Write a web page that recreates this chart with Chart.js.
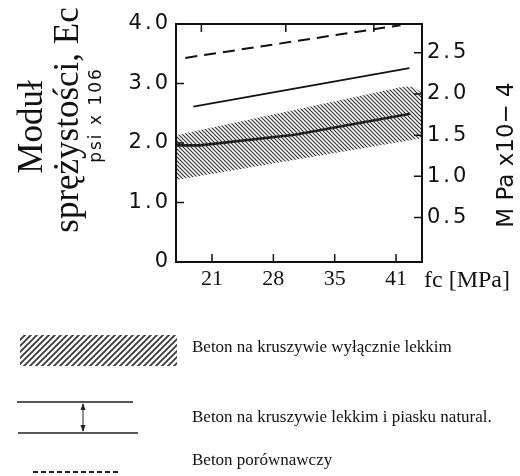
<!DOCTYPE html>
<html>
<head>
<meta charset="utf-8">
<script src="https://cdn.jsdelivr.net/npm/chart.js@4"></script>
<style>
  html, body { margin: 0; padding: 0; background: #fff; }
  #chart { display: block; }
</style>
</head>
<body>
<canvas id="chart" width="520" height="476"></canvas>
<script>
// x: fc [MPa], y: Ec [psi x 10^6], prawa oś: MPa x 10^4
const xTicks = [20.7, 27.6, 34.5, 41.4];
const xTickLabels = ['21', '28', '35', '41'];
const xTopTicks = [19.5, 29.0, 38.9];
const yTicks = [0, 1, 2, 3, 4];
const yTickLabels = ['0', '1.0', '2.0', '3.0', '4.0'];
const y2Ticks = [0.5, 1.0, 1.5, 2.0, 2.5];
const y2TickLabels = ['0.5', '1.0', '1.5', '2.0', '2.5'];

// pole zakreskowane - beton na kruszywie wyłącznie lekkim
const hatchTopX = [16.65, 42.3, 43.4, 44.3];
const hatchTopY = [2.13, 2.95, 2.94, 2.84];
const hatchBottomX = [16.65, 44.3];
const hatchBottomY = [1.38, 2.08];

// linie: kruszywo lekkie + piasek naturalny (dolna i górna)
const lowLineX = [16.65, 19.3, 30.0, 43.0];
const lowLineY = [1.96, 1.96, 2.14, 2.49];
const highLineX = [18.6, 42.9];
const highLineY = [2.61, 3.26];

// beton porównawczy
const refLineX = [17.7, 41.9];
const refLineY = [3.43, 3.98];

const legendLabels = [
  'Beton na kruszywie wyłącznie lekkim',
  'Beton na kruszywie lekkim i piasku natural.',
  'Beton porównawczy'
];

const canvas = document.getElementById('chart');
const ctx = canvas.getContext('2d');

function makeHatch(size, width, color, dir) {
  const c = document.createElement('canvas');
  c.width = size; c.height = size;
  const g = c.getContext('2d');
  g.strokeStyle = color;
  g.lineWidth = width;
  g.beginPath();
  if (dir === 'down') {
    g.moveTo(-1, -1); g.lineTo(size + 1, size + 1);
    g.moveTo(-1, size - 1); g.lineTo(1, size + 1);
    g.moveTo(size - 1, -1); g.lineTo(size + 1, 1);
  } else {
    g.moveTo(-1, size + 1); g.lineTo(size + 1, -1);
    g.moveTo(-1, 1); g.lineTo(1, -1);
    g.moveTo(size - 1, size + 1); g.lineTo(size + 1, size - 1);
  }
  g.stroke();
  return ctx.createPattern(c, 'repeat');
}

const chartHatch = makeHatch(4, 1.2, '#333', 'down');
const legendHatch = makeHatch(6, 1.8, '#3a3a3a', 'up');

function pts(xs, ys) {
  return xs.map((x, i) => ({ x: x, y: ys[i] }));
}

function vtext(c, str, x, y, font, spacing) {
  c.save();
  c.translate(x, y);
  c.rotate(-Math.PI / 2);
  c.font = font;
  c.letterSpacing = spacing || '0px';
  c.textAlign = 'center';
  c.textBaseline = 'alphabetic';
  c.fillStyle = '#111';
  c.fillText(str, 0, 0);
  c.restore();
}

// odstępy liter tylko dla opisów osi pionowych (rysowane przed seriami)
const spacingPlugin = {
  id: 'spacing',
  beforeDraw(chart) { chart.ctx.letterSpacing = '3px'; },
  beforeDatasetsDraw(chart) { chart.ctx.letterSpacing = '0px'; }
};

const framePlugin = {
  id: 'frame',
  afterDatasetsDraw(chart) {
    const c = chart.ctx;
    const a = chart.chartArea;
    const sx = chart.scales.x, sy = chart.scales.y, sy2 = chart.scales.y2;
    const len = 8;
    c.save();
    c.strokeStyle = '#111';
    c.lineWidth = 2;
    c.strokeRect(a.left, a.top, a.right - a.left, a.bottom - a.top);
    c.lineWidth = 1.5;
    c.beginPath();
    xTicks.forEach(v => {
      const px = sx.getPixelForValue(v);
      c.moveTo(px, a.bottom); c.lineTo(px, a.bottom - len);
    });
    xTopTicks.forEach(v => {
      const px = sx.getPixelForValue(v);
      c.moveTo(px, a.top); c.lineTo(px, a.top + len);
    });
    yTicks.forEach(v => {
      const py = sy.getPixelForValue(v);
      c.moveTo(a.left, py); c.lineTo(a.left + len, py);
    });
    y2Ticks.forEach(v => {
      const py = sy2.getPixelForValue(v);
      c.moveTo(a.right, py); c.lineTo(a.right - len, py);
    });
    c.stroke();
    c.restore();
  }
};

const textPlugin = {
  id: 'texts',
  afterDraw(chart) {
    const c = chart.ctx;
    const a = chart.chartArea;
    vtext(c, 'Moduł', 42, 127, '35px "Liberation Serif"');
    vtext(c, 'sprężystości, Ec', 78, 120, '35px "Liberation Serif"');
    vtext(c, 'psi x 106', 101, 115, '17px "DejaVu Sans"', '2px');
    vtext(c, 'M Pa x10− 4', 513, 155, '23px "DejaVu Sans"');

    c.save();
    c.fillStyle = '#111';
    c.letterSpacing = '0px';
    c.font = '24px "Liberation Serif"';
    c.textAlign = 'left';
    c.textBaseline = 'alphabetic';
    c.fillText('fc [MPa]', a.right + 2, 287);

    // legenda
    c.fillStyle = legendHatch;
    c.fillRect(20, 335, 157, 31);

    c.fillStyle = '#111';
    c.font = '17px "Liberation Serif"';
    c.fillText(legendLabels[0], 192, 352);
    c.fillText(legendLabels[1], 192, 422);
    c.fillText(legendLabels[2], 192, 465);

    c.strokeStyle = '#222';
    c.lineWidth = 1.6;
    c.beginPath();
    c.moveTo(17, 402); c.lineTo(133, 402);
    c.moveTo(18, 433); c.lineTo(138, 433);
    c.stroke();

    c.lineWidth = 1;
    c.beginPath();
    c.moveTo(83, 404); c.lineTo(83, 431);
    c.stroke();
    c.beginPath();
    c.moveTo(83, 403); c.lineTo(80.5, 410); c.lineTo(85.5, 410); c.closePath();
    c.moveTo(83, 432); c.lineTo(80.5, 425); c.lineTo(85.5, 425); c.closePath();
    c.fillStyle = '#222';
    c.fill();

    c.lineWidth = 2;
    c.setLineDash([5, 3]);
    c.beginPath();
    c.moveTo(33, 472); c.lineTo(119, 472);
    c.stroke();
    c.restore();
  }
};

new Chart(canvas, {
  type: 'line',
  data: {
    datasets: [
      {
        data: pts(hatchTopX, hatchTopY),
        borderWidth: 0,
        borderColor: 'rgba(0,0,0,0)',
        backgroundColor: chartHatch,
        fill: '+1',
        pointRadius: 0,
        yAxisID: 'y'
      },
      {
        data: pts(hatchBottomX, hatchBottomY),
        borderWidth: 0,
        borderColor: 'rgba(0,0,0,0)',
        fill: false,
        pointRadius: 0,
        yAxisID: 'y'
      },
      {
        data: pts(lowLineX, lowLineY),
        borderColor: '#111',
        borderWidth: 2.6,
        fill: false,
        pointRadius: 0,
        yAxisID: 'y'
      },
      {
        data: pts(highLineX, highLineY),
        borderColor: '#111',
        borderWidth: 1.8,
        fill: false,
        pointRadius: 0,
        yAxisID: 'y'
      },
      {
        data: pts(refLineX, refLineY),
        borderColor: '#111',
        borderWidth: 2,
        borderDash: [12, 7],
        fill: false,
        pointRadius: 0,
        yAxisID: 'y'
      }
    ]
  },
  options: {
    responsive: false,
    animation: false,
    devicePixelRatio: 1,
    layout: { padding: { top: 24, bottom: 174, left: 0, right: 0 } },
    plugins: {
      legend: { display: false },
      tooltip: { enabled: false }
    },
    scales: {
      x: {
        type: 'linear',
        position: 'bottom',
        min: 16.65,
        max: 44.32,
        grid: { display: false, drawTicks: false },
        border: { display: false },
        afterBuildTicks: s => { s.ticks = xTicks.map(v => ({ value: v })); },
        afterFit: s => { s.height = 40; },
        ticks: {
          z: 1,
          autoSkip: false,
          maxRotation: 0,
          padding: 4,
          color: '#111',
          font: { family: '"Liberation Serif"', size: 22 },
          callback: v => xTickLabels[xTicks.indexOf(v)]
        }
      },
      y: {
        type: 'linear',
        position: 'left',
        min: 0,
        max: 4,
        grid: { display: false, drawTicks: false },
        border: { display: false },
        afterBuildTicks: s => { s.ticks = yTicks.map(v => ({ value: v })); },
        afterFit: s => { s.width = 176; },
        ticks: {
          padding: 5,
          color: '#111',
          font: { family: '"DejaVu Sans"', size: 21 },
          callback: v => yTickLabels[yTicks.indexOf(v)]
        }
      },
      y2: {
        type: 'linear',
        position: 'right',
        min: -0.04,
        max: 2.85,
        grid: { display: false, drawTicks: false },
        border: { display: false },
        afterBuildTicks: s => { s.ticks = y2Ticks.map(v => ({ value: v })); },
        afterFit: s => { s.width = 98; },
        ticks: {
          padding: 5,
          color: '#111',
          font: { family: '"DejaVu Sans"', size: 21 },
          callback: v => y2TickLabels[y2Ticks.indexOf(v)]
        }
      }
    }
  },
  plugins: [spacingPlugin, framePlugin, textPlugin]
});
</script>
</body>
</html>
